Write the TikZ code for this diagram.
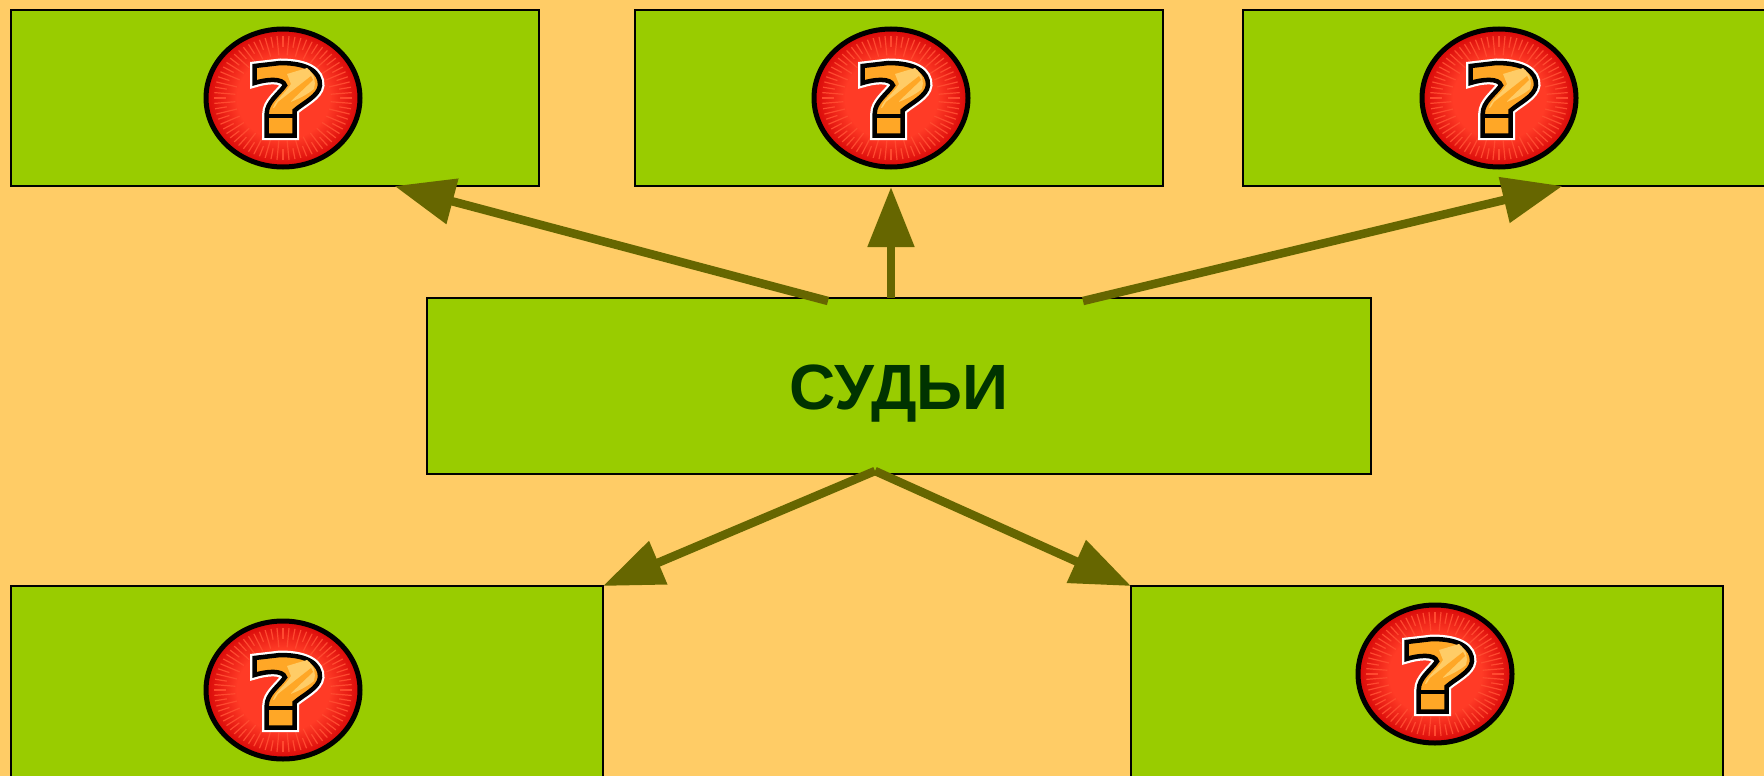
\documentclass[tikz,border=0pt]{standalone}
\usepackage{fontspec}
\setmainfont{Liberation Sans}
\usetikzlibrary{arrows.meta}
\definecolor{pagebg}{HTML}{FFCC66}
\definecolor{boxgreen}{HTML}{99CC00}
\definecolor{linkolive}{HTML}{666600}
\definecolor{textgreen}{HTML}{003300}
\definecolor{badgered}{HTML}{FF3B26}
\definecolor{badgedark}{HTML}{D80808}
\definecolor{rayred}{HTML}{FF4A30}
\definecolor{markorange}{HTML}{FFA726}
\definecolor{marklight}{HTML}{FFCC66}
\pgfdeclareradialshading{badgeshade}{\pgfpoint{0bp}{0bp}}{color(0bp)=(badgered); color(15bp)=(badgered); color(25bp)=(badgedark); color(50bp)=(badgedark)}
\begin{document}
\begin{tikzpicture}[
		x=1pt, y=-1pt,
		box/.style={rectangle, draw=black, line width=2pt, fill=boxgreen, minimum width=528pt, minimum height=176pt, inner sep=0pt, outer sep=0pt},
		link/.style={line width=8.5pt, linkolive, -{Triangle[length=60pt, width=45pt]}},
		badge/.pic={
			\fill[shading=badgeshade] (0,0) ellipse (77 and 69);
			\foreach \a [count=\i] in {0,5,...,355} {
				\pgfmathsetmacro{\r}{ifthenelse(mod(\i,2)==0,0.62,0.74)}
				\draw[rayred, line width=1.2pt] (\a:\r*77 and \r*69) -- (\a:69 and 62);
			}
			\draw[black, line width=5pt] (0,0) ellipse (77 and 69);
			% question mark
			\draw[white, line width=9pt, miter limit=4] (-28.5,-32) -- (-2.7,-35) .. controls (25,-35) and (37.5,-26) .. (37,-12.7) .. controls (36,-2) and (20,5) .. (11.7,12.5) -- (11.7,37.7) -- (-16.3,37.7) -- (-16.3,15.7) .. controls (-16.3,4) and (-4,-4) .. (2,-12.7) .. controls (0,-20) and (-16,-19) .. (-28.5,-15) -- cycle;
			\draw[black, fill=markorange, line width=4.5pt] (-28.5,-32) -- (-2.7,-35) .. controls (25,-35) and (37.5,-26) .. (37,-12.7) .. controls (36,-2) and (20,5) .. (11.7,12.5) -- (11.7,37.7) -- (-16.3,37.7) -- (-16.3,15.7) .. controls (-16.3,4) and (-4,-4) .. (2,-12.7) .. controls (0,-20) and (-16,-19) .. (-28.5,-15) -- cycle;
			\fill[marklight] (-10,10) .. controls (-8,2) and (2,-4) .. (8,-14) -- (4,-24) -- (24,-30) .. controls (32,-24) and (33,-16) .. (31,-9) .. controls (20,0) and (4,6) .. (-10,10) -- cycle;
			\fill[markorange] (-11,14) -- (-5,4) -- (28,-22) -- (30,-18) -- (8,3) -- (8,10) -- cycle;
			\draw[black, line width=4.5pt] (-16.3,18) -- (11.7,18);
			\fill[markorange] (-11,25) rectangle (7,33);
		}
		]
		
		\useasboundingbox (0,0) rectangle (1764,776);
		\clip (0,0) rectangle (1764,776);
		\fill[pagebg] (0,0) rectangle (1764,776);
		
		\node[box] (top1) at (274.5,98) {};
		\node[box] (top2) at (898.5,98) {};
		\node[box] (top3) at (1506.5,98) {};
		\node[box, minimum width=944pt, text height=46pt, text depth=0pt] (judges) at (899,386) {\fontsize{64pt}{64pt}\selectfont\bfseries\textcolor{textgreen}{СУДЬИ}};
		\node[box, minimum width=592pt, minimum height=230pt] (low1) at (307,701) {};
		\node[box, minimum width=592pt, minimum height=230pt] (low2) at (1427,701) {};
		
		\pic at (283,98) {badge};
		\pic at (891,98) {badge};
		\pic at (1499,98) {badge};
		\pic at (283,690) {badge};
		\pic at (1435,674) {badge};
		
		\draw[link] ([xshift=-71pt, yshift=-3pt]judges.north) -- ([xshift=120pt]top1.south);
		\draw[link] ([xshift=-8pt]judges.north) -- ([xshift=-7.5pt, yshift=-1pt]top2.south);
		\draw[link] ([xshift=184pt, yshift=-3pt]judges.north) -- ([xshift=56pt]top3.south);
		\draw[link] ([xshift=-24pt, yshift=3pt]judges.south) -- (low1.north east);
		\draw[link] ([xshift=-24pt, yshift=3pt]judges.south) -- (low2.north west);
		
	\end{tikzpicture}
\end{document}
